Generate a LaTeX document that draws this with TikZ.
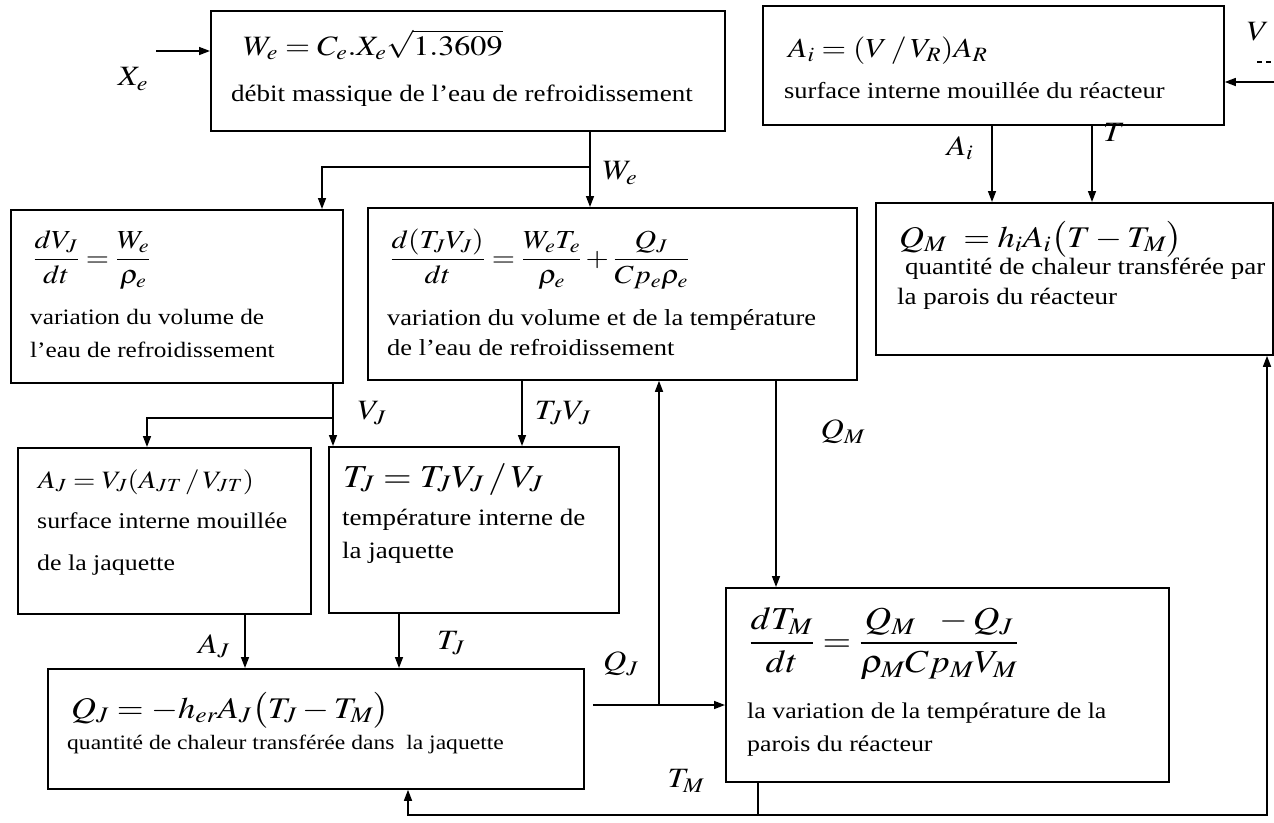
\documentclass[tikz,border=0pt]{standalone}
\usepackage{amsmath}
\usepackage{mathptmx}
\usepackage{graphicx}
\usepackage{fontspec}
\setmainfont{Liberation Serif}
\usetikzlibrary{arrows.meta}
\newcommand{\sx}[1]{\scalebox{1.15}[1]{#1}}
\newcommand{\fs}[1]{\fontsize{#1}{#1}\selectfont}
\begin{document}
\begin{tikzpicture}[x=1pt,y=-1pt,
  box/.style={draw, line width=1.8pt, inner sep=0pt, anchor=north west},
  arr/.style={line width=1.5pt, -{Triangle[length=11pt,width=8pt]}},
  ln/.style={line width=1.5pt},
  txt/.style={anchor=base west, inner sep=0pt, font=\fs{22}},
  lbl/.style={inner sep=0pt, font=\fs{28}}]
\fill[white] (0,0) rectangle (1274,822);
\useasboundingbox (0,0) rectangle (1274,822);

% boxes
\node[box, minimum width=514pt, minimum height=120pt] (b1) at (210,10) {};
\node[box, minimum width=461pt, minimum height=119pt] (b2) at (762,5) {};
\node[box, minimum width=397pt, minimum height=152pt] (b3) at (875,202) {};
\node[box, minimum width=332pt, minimum height=173pt] (b4) at (10,209) {};
\node[box, minimum width=489pt, minimum height=172pt] (b5) at (367,207) {};
\node[box, minimum width=293pt, minimum height=166pt] (b6) at (17,447) {};
\node[box, minimum width=290pt, minimum height=166pt] (b7) at (328,446) {};
\node[box, minimum width=536pt, minimum height=120pt] (b8) at (47,668) {};
\node[box, minimum width=443pt, minimum height=194pt] (b9) at (725,587) {};

% box texts
\node[txt,font=\fs{28}] (t1a) at (243,55) {\sx{$W_e = C_e.X_e\sqrt{1.3609}$}};
\node[txt,font=\fs{23.5}] (t1b) at (231,101) {\sx{débit massique de l’eau de refroidissement}};

\node[txt,font=\fs{27.5}] (t2a) at (788,57) {\sx{$A_i = (V\,/\,V_R)A_R$}};
\node[txt,font=\fs{23}] (t2b) at (784,98) {\sx{surface interne mouillée du réacteur}};

\node[txt,font=\fs{30}] (t3a) at (899,247) {\sx{$Q_M\ = h_i A_i\bigl(T - T_M\bigr)$}};
\node[txt,font=\fs{23.5}] (t3b) at (905,274) {\sx{quantité de chaleur transférée par}};
\node[txt,font=\fs{23.5}] (t3c) at (897,304) {\sx{la parois du réacteur}};

\node[txt,font=\fs{26}] (t4a) at (33,266) {\sx{$\dfrac{dV_J}{dt} = \dfrac{W_e}{\rho_e}$}};
\node[txt] (t4b) at (30,324) {\sx{variation du volume de}};
\node[txt] (t4c) at (30,357) {\sx{l’eau de refroidissement}};

\node[txt,font=\fs{26}] (t5a) at (390,266) {\sx{$\dfrac{d(T_JV_J)}{dt} = \dfrac{W_eT_e}{\rho_e} + \dfrac{Q_J}{Cp_e\rho_e}$}};
\node[txt,font=\fs{23}] (t5b) at (387,325) {\sx{variation du volume et de la température}};
\node[txt,font=\fs{23}] (t5c) at (387,355) {\sx{de l’eau de refroidissement}};

\node[txt,font=\fs{25}] (t6a) at (38,488) {\sx{$A_J = V_J(A_{JT}\,/\,V_{JT})$}};
\node[txt,font=\fs{22.5}] (t6b) at (37,528) {\sx{surface interne mouillée}};
\node[txt,font=\fs{22.5}] (t6c) at (37,570) {\sx{de la jaquette}};

\node[txt,font=\fs{32}] (t7a) at (343,487) {\sx{$T_J = T_JV_J\,/\,V_J$}};
\node[txt,font=\fs{23.5}] (t7b) at (342,525) {\sx{température interne de}};
\node[txt,font=\fs{23.5}] (t7c) at (342,558) {\sx{la jaquette}};

\node[txt,font=\fs{30}] (t8a) at (71,718) {\sx{$Q_J = -h_{er}A_J\bigl(T_J - T_M\bigr)$}};
\node[txt,font=\fs{20.5}] (t8b) at (67,749) {\sx{quantité de chaleur transférée dans\ \ la jaquette}};

\node[txt,font=\fs{32}] (t9a) at (749,651) {\sx{$\dfrac{dT_M}{dt} = \dfrac{Q_M\ \ -Q_J}{\rho_M Cp_M V_M}$}};
\node[txt,font=\fs{22.5}] (t9b) at (747,718) {\sx{la variation de la température de la}};
\node[txt,font=\fs{22.5}] (t9c) at (747,751) {\sx{parois du réacteur}};

% connector labels
\node[lbl] (lxe) at (133,79) {\sx{$X_e$}};
\node[lbl] (lwe) at (620,173) {\sx{$W_e$}};
\node[lbl] (lv) at (1258,32) {\sx{$V$}};
\node[lbl] (lai) at (960,148) {\sx{$A_i$}};
\node[lbl] (lt) at (1114,132) {\sx{$T$}};
\node[lbl] (lvj) at (372,413) {\sx{$V_J$}};
\node[lbl] (ltjvj) at (563,413) {\sx{$T_JV_J$}};
\node[lbl] (lqm) at (843,432) {\sx{$Q_M$}};
\node[lbl] (laj) at (214,646) {\sx{$A_J$}};
\node[lbl] (ltj) at (451,643) {\sx{$T_J$}};
\node[lbl] (lqj) at (621,664) {\sx{$Q_J$}};
\node[lbl] (ltm) at (686,781) {\sx{$T_M$}};

% helper coordinates
\coordinate (xe0) at (156,51);
\coordinate (wsp) at (590,167);
\coordinate (x4) at (322,0);
\coordinate (vin) at (1274,82);
\coordinate (vd1) at (1257,62);
\coordinate (vd2) at (1274,62);
\coordinate (xai) at (992,0);
\coordinate (xt) at (1092,0);
\coordinate (vjs) at (333,418);
\coordinate (x6) at (147,0);
\coordinate (xtv) at (522,0);
\coordinate (xqm) at (776,0);
\coordinate (xaj) at (245,0);
\coordinate (xtj) at (399,0);
\coordinate (qjb) at (659,705);
\coordinate (tmb) at (758,815);
\coordinate (x3) at (1267,0);
\coordinate (x8) at (408,0);

% connectors
\draw[arr] (xe0) -- (xe0 -| b1.west);
\draw[ln] (b1.south -| wsp) -- (wsp);
\draw[arr] (wsp) -- (wsp |- b5.north);
\draw[arr] (wsp) -| (x4 |- b4.north);
\draw[arr] (vin) -- (vin -| b2.east);
\draw[ln, dash pattern=on 5pt off 4pt] (vd1) -- (vd2);
\draw[arr] (b2.south -| xai) -- (b3.north -| xai);
\draw[arr] (b2.south -| xt) -- (b3.north -| xt);
\draw[ln] (b4.south -| vjs) -- (vjs);
\draw[arr] (vjs) -- (vjs |- b7.north);
\draw[arr] (vjs) -| (x6 |- b6.north);
\draw[arr] (b5.south -| xtv) -- (b7.north -| xtv);
\draw[arr] (b5.south -| xqm) -- (b9.north -| xqm);
\draw[arr] (b6.south -| xaj) -- (b8.north -| xaj);
\draw[arr] (b7.south -| xtj) -- (b8.north -| xtj);
\draw[ln] ([xshift=8pt]b8.east |- qjb) -- (qjb);
\draw[arr] (qjb) -- (qjb -| b9.west);
\draw[arr] (qjb) -- (qjb |- b5.south);
\draw[ln] (b9.south -| tmb) -- (tmb);
\draw[arr] (tmb) -| (x3 |- b3.south);
\draw[arr] (tmb) -| (x8 |- b8.south);
\end{tikzpicture}
\end{document}
